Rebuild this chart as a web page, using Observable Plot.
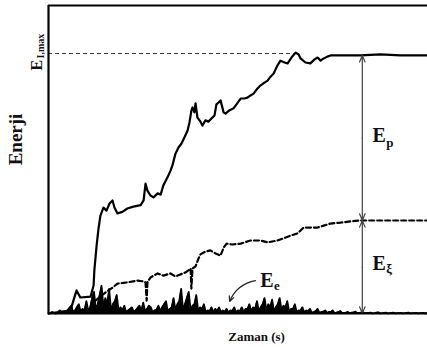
<!DOCTYPE html>
<html><head><meta charset="utf-8">
<script src="https://cdn.jsdelivr.net/npm/d3@7"></script>
<script src="https://cdn.jsdelivr.net/npm/@observablehq/plot@0.6"></script>
<style>body{margin:0;background:#fff} svg text{font-family:"Liberation Serif","Times New Roman","DejaVu Serif",serif !important}</style>
</head><body><div id="chart"></div>
<script>
// Input energy E_I (solid)
const eiTime = [0,5.8,7.4,8.4,11.1,11.9,12.1,12.7,13.2,13.7,14.5,15.3,16.1,16.9,17.4,18.2,19.5,20.8,22.4,24.3,25.1,25.6,26.1,26.9,27.7,28.8,29.6,30.3,31.4,32.2,32.7,33.5,34.3,35.1,36.1,36.7,37.2,37.7,38.0,38.5,38.8,39.3,40.1,40.6,41.4,42.2,43.0,43.8,44.3,44.9,45.4,46.2,46.7,47.8,48.8,49.6,50.7,51.7,52.5,53.3,54.1,54.9,55.9,56.7,57.8,58.6,59.4,60.4,61.2,62.3,63.1,64.1,65.2,66.0,66.5,67.8,69.1,70.2,71.0,71.8,72.6,73.6,74.4,78.4,82.3,87.6,92.9,100];
const eiVal  = [0,1,7.5,5.2,5.5,9.1,14,22.1,27.6,31.8,34.4,33.4,35.7,36.7,34.4,32.5,33.0,34.1,34.7,35.2,36.7,42.2,39.9,38.3,37.7,39,38.6,41.6,44.2,46.4,48.1,51.9,53.9,55.2,57.8,59.4,62,65.9,66.9,65.3,68.2,63.6,62.3,61.0,62.7,62.3,63.3,64.3,67.9,68.5,69.2,65.3,64.9,66.0,66.6,67.9,69.8,69.8,70.1,70.8,71.4,72.7,74,74.7,75.6,76.9,77.9,80.5,82.1,81.5,81.2,83.1,84.7,84.1,82.8,81.5,81.2,82.5,83.1,82.1,82.8,83.4,83.8,83.8,83.8,84.1,83.8,83.8];
// Dissipated energy E_xi (dashed)
const exTime = [12.4,15.0,16.9,18.2,20.8,23.5,25.1,25.6,25.9,26.1,26.9,28.8,30.3,32.2,33.5,34.8,36.1,36.9,37.5,37.7,38.0,38.8,39.6,40.1,41.4,42.7,44.1,45.4,46.2,47.0,48.5,50.7,53.3,55.9,57.8,60.4,62.0,63.9,65.7,67.3,69.1,71.0,72.8,74.4,77.0,79.7,82.3,100];
const exVal  = [4.2,6.8,8.4,9.7,10.1,10.7,10.4,10.1,4.2,10.1,11.7,13,12.3,13,12.0,12.7,13.3,14,14.6,8.1,14.6,15.3,17.9,19.2,20.1,20.5,19.5,18.8,21.4,22.7,22.4,22.7,23.7,23.7,23.1,23.7,24.4,25.3,26,27.9,27.9,27.9,28.6,29.2,29.5,29.9,30.2,30.2];
// Elastic energy E_e (noisy, samples every half time unit 0..100)
const eeVal = [0,0.2,0.5,0.1,0,0.4,1,0.2,0.5,
  0.3,1,1.8,2.5,0.5,1,2,3,0.6,1.5,
  1,4,0.8,2,5,7,1.5,3,6,9,
  2,5,3,8,1,3,4,6,0.8,2,
  1,2.5,0.4,1,1.5,2,0.5,1,1.8,2.5,
  1,3.5,0.6,1.5,2.5,2,0.4,1,1.2,2.5,
  0.8,2,3,4,0.6,1.5,2,5,1,3,
  4,8,1.2,3,5,7,1,2.5,3,6,
  0.8,2,1.5,3,0.4,1,0.8,2,0.5,1.5,
  0.8,2,0.4,1,0.6,1.5,0.3,1,0.8,2,
  0.4,1,0.8,2,0.5,1.5,1.5,3,0.7,2,
  1.5,4,0.8,2,3,5,1,3,2,4.5,
  0.8,2,3,5,1,2.5,2,4,0.5,1.5,
  1.5,3,0.4,1,1,2,0.3,1,0.8,1.5,
  0.2,0.5,0.8,1.5,0.2,0.5,0.6,1,0.2,0.5,
  0.5,1,0.1,0.3,0.5,0.8,0.1,0.2,0.3,0.5,
  0.1,0.3,0.4,0.6,0.1,0.2,0.3,0.4,0.1,0.2,
  0.2,0.3,0.05,0.1,0.3,0.4,0.05,0.1,0.2,0.3,
  0.05,0.1,0.2,0.3,0.05,0.1,0.15,0.2,0.05,0.1,
  0.2,0.3,0.05,0.1,0.15,0.2,0.05,0.1,0.15,0.2,0.05,0.1];
const eiMax = 84.4;
const eiMaxReach = 65.2;
const arrowX = 82.8;
const exFinal = 30.2;
const eiFinal = 83.8;

const ei = eiTime.map((t,i)=>({t, v: eiVal[i]}));
const ex = exTime.map((t,i)=>({t, v: exVal[i]}));
const ee = eeVal.map((v,i)=>({t: i * 100 / (eeVal.length - 1), v}));

const F = "Liberation Serif, Times New Roman, serif";
const txt = (data, o) => Plot.text(data, {fontFamily: F, fontWeight: "bold", fill: "#111", ...o});

const chart = Plot.plot({
  width: 427, height: 347,
  marginLeft: 48, marginRight: 0, marginTop: 5, marginBottom: 34,
  x: {domain: [0, 100], axis: null},
  y: {domain: [0, 100], axis: null},
  style: {fontFamily: F, background: "white"},
  marks: [
    Plot.ruleY([eiMax], {x1: 0, x2: eiMaxReach, stroke: "#333", strokeWidth: 1, strokeDasharray: "4,3"}),
    Plot.areaY(ee, {x: "t", y: "v", fill: "#000"}),
    Plot.line(ee, {x: "t", y: "v", stroke: "#000", strokeWidth: 1.8}),
    Plot.line(ex, {x: "t", y: "v", stroke: "#000", strokeWidth: 2.2, strokeDasharray: "5,3"}),
    Plot.line(ei, {x: "t", y: "v", stroke: "#000", strokeWidth: 2.2}),
    Plot.arrow([{a: 57, b: eiFinal}, {a: 57, b: exFinal}, {a: 15, b: exFinal}, {a: 15, b: 0}],
      {x1: () => arrowX, x2: () => arrowX, y1: "a", y2: "b", stroke: "#444", strokeWidth: 1.2, headLength: 9, headAngle: 45}),
    Plot.arrow([{x1: 54.6, y1: 10.7, x2: 47.8, y2: 3.9}],
      {x1: "x1", y1: "y1", x2: "x2", y2: "y2", bend: -30, stroke: "#222", strokeWidth: 1.2, headLength: 7, headAngle: 50}),
    Plot.ruleX([0], {stroke: "#000", strokeWidth: 2.2}),
    Plot.ruleY([0, 100], {stroke: "#000", strokeWidth: 2.2}),
    // labels
    txt(["E"], {x: 85.5, y: 57.8, fontSize: 20, textAnchor: "start"}),
    txt(["p"], {x: 89.1, y: 55.5, fontSize: 13, textAnchor: "start"}),
    txt(["E"], {x: 85.5, y: 16.2, fontSize: 20, textAnchor: "start"}),
    txt(["ξ"], {x: 89.1, y: 14.6, fontSize: 13, textAnchor: "start"}),
    txt(["E"], {x: 55.9, y: 10.7, fontSize: 20, textAnchor: "start"}),
    txt(["e"], {x: 59.5, y: 9.1, fontSize: 13, textAnchor: "start"}),
    txt(["E"], {x: 0, y: 82.4, dx: -12, fontSize: 16, rotate: -90, textAnchor: "end"}),
    txt(["I,max"], {x: 0, y: 82.8, dx: -8, fontSize: 10, rotate: -90, textAnchor: "start"}),
    txt(["Enerji"], {x: 0, y: 56.5, dx: -33, fontSize: 19, rotate: -90}),
    txt(["Zaman (s)"], {x: 54.9, y: 0, dy: 23, fontSize: 13})
  ]
});
document.getElementById("chart").append(chart);
</script>
</body></html>
